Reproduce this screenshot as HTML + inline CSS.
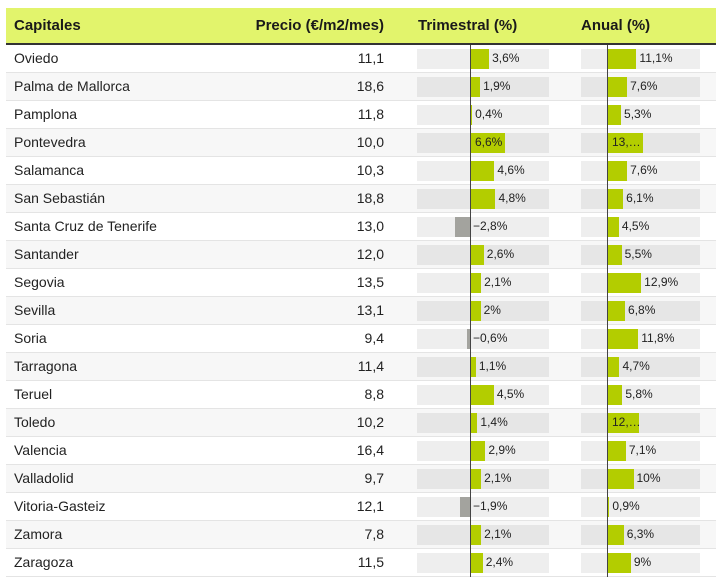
<!DOCTYPE html><html><head><meta charset="utf-8"><style>
body{margin:0;width:720px;height:580px;background:#fff;font-family:"Liberation Sans",sans-serif;color:#222;position:relative;overflow:hidden}
.a{position:absolute}
.hd{left:6px;top:8px;width:710px;height:35px;background:#e2f46c;border-bottom:2px solid #333}
.hd span{position:absolute;top:9px;font-weight:bold;font-size:15px;color:#1a1a1a}
.row{position:absolute;left:6px;width:710px;height:27px;border-bottom:1px solid #e4e4e4;font-size:14px}
.row.alt{background:#f7f7f7}
.nm{position:absolute;left:8px;top:5px}
.pr{position:absolute;right:332px;top:5px}
.bg{position:absolute;top:4px;height:20px;background:#eee}
.alt .bg{background:#e6e6e6}
.b{position:absolute;top:4px;height:20px;background:#b3cd00}
.n{background:#a3a39e}
.l{position:absolute;top:6px;font-size:12px}
.z{position:absolute;top:45px;height:532px;width:1px;background:#444}
</style></head><body>
<div class="a hd"><span style="left:8px">Capitales</span><span style="right:332px">Precio (€/m2/mes)</span><span style="left:412px">Trimestral (%)</span><span style="left:575px">Anual (%)</span></div>
<div id="t"></div>
<div class="z" style="left:470px"></div><div class="z" style="left:607px"></div>
<script>
var d=[["Oviedo","11,1",3.6,"3,6%",11.1,"11,1%"],["Palma de Mallorca","18,6",1.9,"1,9%",7.6,"7,6%"],["Pamplona","11,8",0.4,"0,4%",5.3,"5,3%"],["Pontevedra","10,0",6.6,"6,6%",13.5,"13,…"],["Salamanca","10,3",4.6,"4,6%",7.6,"7,6%"],["San Sebastián","18,8",4.8,"4,8%",6.1,"6,1%"],["Santa Cruz de Tenerife","13,0",-2.8,"−2,8%",4.5,"4,5%"],["Santander","12,0",2.6,"2,6%",5.5,"5,5%"],["Segovia","13,5",2.1,"2,1%",12.9,"12,9%"],["Sevilla","13,1",2,"2%",6.8,"6,8%"],["Soria","9,4",-0.6,"−0,6%",11.8,"11,8%"],["Tarragona","11,4",1.1,"1,1%",4.7,"4,7%"],["Teruel","8,8",4.5,"4,5%",5.8,"5,8%"],["Toledo","10,2",1.4,"1,4%",12.1,"12,…"],["Valencia","16,4",2.9,"2,9%",7.1,"7,1%"],["Valladolid","9,7",2.1,"2,1%",10,"10%"],["Vitoria-Gasteiz","12,1",-1.9,"−1,9%",0.9,"0,9%"],["Zamora","7,8",2.1,"2,1%",6.3,"6,3%"],["Zaragoza","11,5",2.4,"2,4%",9,"9%"]];
var h="";
function bar(z,v,s,lab,inside){var w=Math.abs(v)*s,x=v>=0?z:z-w;var r='<div class="b'+(v<0?' n':'')+'" style="left:'+(x-6)+'px;width:'+w+'px"></div>';var lx=inside?z+5:(v>=0?z+w+3:z+3);r+='<div class="l" style="left:'+(lx-6)+'px">'+lab+'</div>';return r;}
d.forEach(function(r,i){h+='<div class="row'+(i%2?' alt':'')+'" style="top:'+(45+28*i)+'px"><div class="nm">'+r[0]+'</div><div class="pr">'+r[1]+'</div><div class="bg" style="left:411px;width:132px"></div><div class="bg" style="left:575px;width:119px"></div>'+bar(470,r[2],5.3,r[3],r[2]>6)+bar(607,r[4],2.65,r[5],r[4]>13||r[5].indexOf("…")>0)+'</div>';});
document.getElementById("t").innerHTML=h;
</script></body></html>
